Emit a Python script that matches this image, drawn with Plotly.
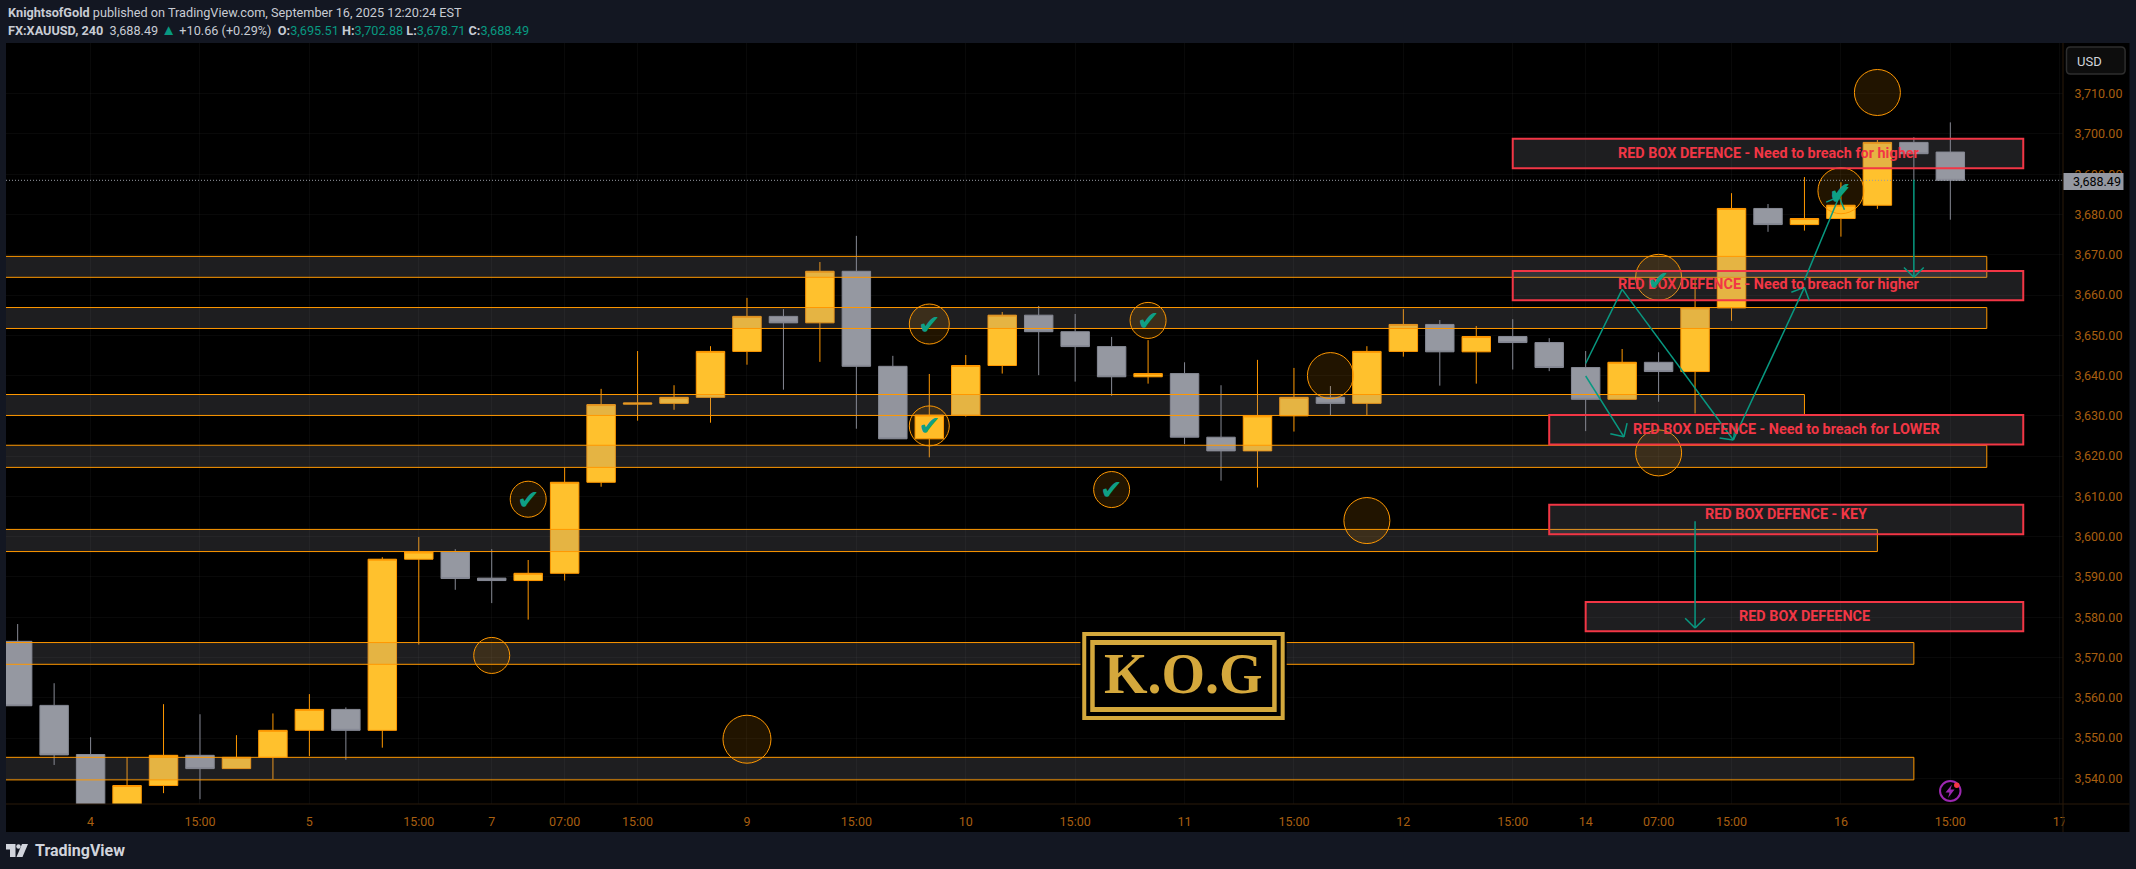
import plotly.graph_objects as go
import math

# ---------- data ----------
opens = [3574.0,3558.1,3545.9,3531.0,3538.2,3545.7,3542.4,3545.2,3551.9,3557.1,3551.9,3594.4,3596.2,3589.7,3589.1,3590.9,3613.5,3632.9,3633.1,3634.6,
         3646.0,3654.7,3653.1,3665.9,3642.3,3624.3,3630.2,3642.5,3655.0,3650.9,3647.2,3639.7,3640.5,3624.7,3621.3,3630.0,3634.6,3633.1,3646.0,3652.7,
         3645.9,3649.7,3648.2,3642.0,3634.1,3643.3,3641.0,3656.8,3681.5,3677.5,3679.0,3682.3,3697.9,3695.51]
highs = [3578.3,3563.6,3550.2,3545.2,3558.4,3555.9,3550.7,3556.1,3560.9,3557.6,3594.9,3599.9,3596.9,3596.9,3594.2,3617.2,3636.7,3646.1,3637.6,3647.3,
         3659.3,3656.5,3668.2,3674.7,3644.9,3640.4,3645.1,3655.8,3657.3,3655.3,3649.6,3648.8,3643.3,3637.6,3643.9,3641.9,3637.4,3647.3,3656.5,3653.8,
         3652.3,3654.0,3649.3,3646.1,3646.6,3645.8,3663.9,3685.3,3682.6,3689.3,3688.0,3698.5,3699.2,3702.88]
lows = [3558.0,3543.3,3528.0,3530.0,3536.3,3534.8,3542.4,3539.8,3545.5,3544.6,3547.6,3573.2,3586.8,3583.5,3579.4,3589.1,3612.4,3628.8,3631.5,3628.3,
        3642.7,3636.5,3643.4,3626.8,3624.3,3619.7,3629.8,3640.5,3640.1,3638.5,3635.0,3638.0,3623.0,3613.9,3612.2,3626.1,3630.2,3630.2,3644.7,3637.5,
        3638.0,3641.5,3641.1,3626.2,3634.1,3633.5,3630.6,3653.6,3675.7,3676.0,3674.5,3681.4,3688.6,3678.71]
closes = [3558.0,3545.8,3530.0,3538.2,3545.7,3542.4,3545.2,3551.9,3557.1,3551.9,3594.4,3596.2,3589.6,3589.1,3590.9,3613.5,3632.8,3633.2,3634.6,3646.0,
          3654.7,3653.1,3665.9,3642.3,3624.3,3630.2,3642.5,3655.0,3650.9,3647.2,3639.7,3640.5,3624.7,3621.3,3630.0,3634.6,3633.1,3646.0,3652.7,3645.9,
          3649.7,3648.2,3642.0,3634.1,3643.3,3641.0,3656.8,3681.5,3677.5,3679.0,3682.3,3697.9,3695.1,3688.49]
bars = list(range(len(closes)))

x_tick_bars = [2,5,8,11,13,15,17,20,23,26,29,32,35,38,41,43,45,47,50,53,56]
x_tick_text = ["4","15:00","5","15:00","7","07:00","15:00","9","15:00","10","15:00","11","15:00","12","15:00","14","07:00","15:00","16","15:00","17"]
y_ticks = [3540,3550,3560,3570,3580,3590,3600,3610,3620,3630,3640,3650,3660,3670,3680,3690,3700,3710]
y_tick_text = [f"{v:,.2f}" for v in y_ticks]
last_price = 3688.49

# zones: price top, price bottom, last bar
zone_tops = [3669.6,3656.9,3635.3,3622.7,3601.8,3573.7,3545.2]
zone_bottoms = [3664.4,3651.7,3630.1,3617.2,3596.3,3568.3,3539.6]
zone_ends = [54,54,49,54,51,52,52]

# red boxes
red_tops = [3698.8,3666.0,3630.2,3607.9,3583.8]
red_bottoms = [3691.5,3658.7,3622.9,3600.6,3576.5]
red_starts = [41,41,42,42,43]
red_ends = [55,55,55,55,55]
red_labels = ["RED BOX DEFENCE - Need to breach for higher","RED BOX DEFENCE - Need to breach for higher",
              "RED BOX DEFENCE - Need to breach for LOWER","RED BOX DEFENCE - KEY","RED BOX DEFEENCE"]
red_label_bars = [48,48,48.5,48.5,49]
red_label_prices = [3695.2,3662.5,3626.6,3605.6,3580.2]

# circles: bar, price, radius (px)
circle_bars = [51,50,45,45,37,36,20,13,14,30,25,25,31]
circle_prices = [3710.3,3685.9,3664.4,3620.8,3604.0,3640.0,3549.7,3570.5,3609.3,3611.7,3627.5,3652.8,3653.7]
circle_radii = [23,23,23,23,23,23,24,18,18,18,20,20,18]
# check marks
check_bars = [14,30,25,25,31,45,50,50]
check_prices = [3609.3,3611.7,3627.5,3652.8,3653.7,3663.7,3685.0,3685.8]

# arrows (from bar, from price, to bar, to price, has head)
arrow_x0 = [43,44,47.05,43,49,52,46]
arrow_p0 = [3643.0,3661.4,3624.0,3639.9,3663.7,3688.6,3603.8]
arrow_x1 = [44,47.05,49,44.05,49.95,52,46]
arrow_p1 = [3661.4,3624.0,3661.9,3624.8,3684.4,3664.4,3577.3]
arrow_heads = [False,True,True,True,True,True,True]

# ---------- layout constants ----------
W, H = 2136, 869
PL, PR, PT, PB = 6, 2063.5, 43, 804
X_RANGE = [-0.32, 56.09]
Y_RANGE = [3533.61, 3722.59]
SX = (PR-PL)/(X_RANGE[1]-X_RANGE[0])
SY = (PB-PT)/(Y_RANGE[1]-Y_RANGE[0])
def px(x): return (x-PL)/(PR-PL)
def py(y): return (PB-y)/(PB-PT)

CHROME = "#131722"; ORANGE = "#FF9800"; YELLOW = "#FFC12D"; GREY = "#9598A1"
RED = "#F23645"; TEAL = "#089981"; GOLD = "#D4A83C"; AXIS = "#A85F10"
BOX_FILL = "rgba(138,138,147,0.22)"
FONT = "Roboto"; AXFONT = "Roboto"

shapes = []
def prect(x0,y0,x1,y1,fill,line=None,lw=0,layer="above"):
    shapes.append(dict(type="rect",xref="paper",yref="paper",x0=px(x0),x1=px(x1),y0=py(y1),y1=py(y0),
                       fillcolor=fill,line=dict(color=line or fill,width=lw),layer=layer))

# chart panel (plot + axes)
prect(PL,PT,2130,832,"#000000",layer="below")
# axis separators
shapes.append(dict(type="line",xref="paper",yref="paper",x0=0,x1=px(2130),y0=0,y1=0,line=dict(color="#2a1a0a",width=1),layer="above"))
shapes.append(dict(type="line",xref="paper",yref="paper",x0=1,x1=1,y0=py(832),y1=1,line=dict(color="#2a1a0a",width=1),layer="above"))

# zones
for t,b,e in zip(zone_tops,zone_bottoms,zone_ends):
    shapes.append(dict(type="rect",xref="x",yref="y",x0=-2,x1=e,y0=b,y1=t,fillcolor=BOX_FILL,line=dict(color=ORANGE,width=1),layer="above"))
# circles
for b,p,r in zip(circle_bars,circle_prices,circle_radii):
    shapes.append(dict(type="circle",xref="x",yref="y",x0=b-r/SX,x1=b+r/SX,y0=p-r/SY,y1=p+r/SY,
                       fillcolor="rgba(255,152,0,0.13)",line=dict(color=ORANGE,width=1),layer="above"))
# red boxes
for t,b,s,e in zip(red_tops,red_bottoms,red_starts,red_ends):
    shapes.append(dict(type="rect",xref="x",yref="y",x0=s,x1=e,y0=b,y1=t,fillcolor=BOX_FILL,line=dict(color=RED,width=2),layer="above"))
# last price line
shapes.append(dict(type="line",xref="paper",yref="y",x0=0,x1=1,y0=last_price,y1=last_price,line=dict(color="#9a9da6",width=1,dash="1px,2px"),layer="above"))
# arrows
def seg(x0,p0,x1,p1,lw=1.5):
    shapes.append(dict(type="line",xref="x",yref="y",x0=x0,x1=x1,y0=p0,y1=p1,line=dict(color=TEAL,width=lw),layer="above"))
for x0,p0,x1,p1,h in zip(arrow_x0,arrow_p0,arrow_x1,arrow_p1,arrow_heads):
    seg(x0,p0,x1,p1)
    if h:
        a = math.atan2((p1-p0)*SY,(x1-x0)*SX)
        for d in (math.pi*0.75,-math.pi*0.75):
            seg(x1,p1,x1+14*math.cos(a+d)/SX,p1+14*math.sin(a+d)/SY)

# logo
prect(1080.7,630,1287,722,"#000000")
prect(1082.5,632,1285,720,GOLD)
prect(1086.5,636,1281,716,"#000000")
prect(1090.5,640,1277,712,GOLD)
prect(1095,645,1272.5,707,"#000000")

# USD button
x0,x1,y0,y1 = px(2067),px(2125.6),py(74),py(47)
rx,ry = 4/(PR-PL),4/(PB-PT)
shapes.append(dict(type="path",xref="paper",yref="paper",
    path=f"M{x0+rx},{y0} L{x1-rx},{y0} Q{x1},{y0} {x1},{y0+ry} L{x1},{y1-ry} Q{x1},{y1} {x1-rx},{y1} L{x0+rx},{y1} Q{x0},{y1} {x0},{y1-ry} L{x0},{y0+ry} Q{x0},{y0} {x0+rx},{y0} Z",
    fillcolor="#0d0d0d",line=dict(color="#2e2e2e",width=1.5),layer="above"))
# last price tag
prect(2064,173,2124,190,"#9598A1")
# bolt icon
shapes.append(dict(type="circle",xref="paper",yref="paper",x0=px(1940.5),x1=px(1961),y0=py(801),y1=py(781),
                   fillcolor="rgba(0,0,0,0)",line=dict(color="#9C27B0",width=2),layer="above"))
shapes.append(dict(type="circle",xref="paper",yref="paper",x0=px(1954.5),x1=px(1960),y0=py(788),y1=py(782.5),
                   fillcolor=RED,line=dict(color=RED,width=0),layer="above"))
def ppath(pts): return "M"+" L".join(f"{px(a)},{py(b)}" for a,b in pts)+" Z"
shapes.append(dict(type="path",xref="paper",yref="paper",path=ppath([(1952.5,784.5),(1946,792.5),(1950,792.5),(1948.5,798),(1955,789.5),(1951,789.5)]),
                   fillcolor="#9C27B0",line=dict(width=0),layer="above"))
# TradingView mark
for pts in ([(6,844),(15.5,844),(15.5,857),(10,857),(10,849.5),(6,849.5)],
            [(28,844),(22.5,857),(16.5,857),(22,844)]):
    shapes.append(dict(type="path",xref="paper",yref="paper",path=ppath(pts),fillcolor="#D1D4DC",line=dict(width=0)))
shapes.append(dict(type="circle",xref="paper",yref="paper",x0=px(16.3),x1=px(20.7),y0=py(848.7),y1=py(844.3),fillcolor="#D1D4DC",line=dict(width=0)))

ann = []
def ptext(x,y,t,size,color,anchor="left",family=FONT,**k):
    ann.append(dict(xref="paper",yref="paper",x=px(x),y=py(y),text=t,showarrow=False,xanchor=anchor,yanchor="middle",
                    font=dict(family=family,size=size,color=color),**k))

C1 = "#C8CCD4"
ptext(6,12.7,"<b>KnightsofGold</b> published on TradingView.com, September 16, 2025 12:20:24 EST",12.7,C1)
T = TEAL
line2 = (f"<b>FX:XAUUSD, 240</b>  3,688.49 <span style='color:{T};font-size:15px'>▲</span> +10.66 (+0.29%)  "
         f"<b>O:</b><span style='color:{T}'>3,695.51</span> <b>H:</b><span style='color:{T}'>3,702.88</span> "
         f"<b>L:</b><span style='color:{T}'>3,678.71</span> <b>C:</b><span style='color:{T}'>3,688.49</span>")
ptext(6,29.7,line2,12.7,C1)
ptext(2076,61.5,"USD",13,"#D1D4DC")
ptext(2072,181.5,"3,688.49",12.5,"#000000")
ptext(33,851,"<b>TradingView</b>",16,"#D1D4DC")
ptext(1183.5,674,"<b>K.O.G</b>",56,GOLD,anchor="center",family="Liberation Serif")
for t,b,p in zip(red_labels,red_label_bars,red_label_prices):
    ann.append(dict(xref="x",yref="y",x=b,y=p,text=f"<b>{t}</b>",showarrow=False,xanchor="center",yanchor="middle",
                    font=dict(family=FONT,size=14.4,color=RED)))
for b,p in zip(check_bars,check_prices):
    ann.append(dict(xref="x",yref="y",x=b,y=p,text="✔",showarrow=False,xanchor="center",yanchor="middle",
                    font=dict(family="DejaVu Sans",size=27,color="#0E9F85")))
# cover for the clipped "17" axis label
ann.append(dict(xref="paper",yref="paper",x=px(2064.5),y=py(817),text=" ",showarrow=False,xanchor="left",yanchor="middle",
                width=10,height=16,bgcolor="#000000"))

fig = go.Figure(go.Candlestick(
    x=bars,open=opens,high=highs,low=lows,close=closes,whiskerwidth=0,
    increasing=dict(line=dict(color=ORANGE,width=1),fillcolor=YELLOW),
    decreasing=dict(line=dict(color="#868994",width=1),fillcolor=GREY),
    hoverinfo="skip",showlegend=False))

fig.update_layout(
    width=W,height=H,margin=dict(l=PL,r=W-PR,t=PT,b=H-PB,pad=0),autosize=False,
    paper_bgcolor=CHROME,plot_bgcolor="#000000",showlegend=False,dragmode=False,
    boxgap=0.22,boxgroupgap=0,
    shapes=shapes,annotations=ann,
    xaxis=dict(range=X_RANGE,tickmode="array",tickvals=x_tick_bars,ticktext=x_tick_text,rangeslider=dict(visible=False),
               showgrid=True,gridcolor="rgba(255,255,255,0.035)",gridwidth=1,zeroline=False,showline=False,ticks="outside",ticklen=6,tickcolor="rgba(0,0,0,0)",
               tickangle=0,tickfont=dict(family=AXFONT,size=12.5,color=AXIS)),
    yaxis=dict(range=Y_RANGE,side="right",tickmode="array",tickvals=y_ticks,ticktext=y_tick_text,
               showgrid=True,gridcolor="rgba(255,255,255,0.035)",gridwidth=1,zeroline=False,showline=False,ticks="outside",ticklen=8,tickcolor="rgba(0,0,0,0)",
               tickfont=dict(family=AXFONT,size=12.5,color=AXIS)),
)
fig.write_html("out.html",config=dict(displayModeBar=False),
               post_script="document.body.style.margin='0';document.body.style.overflow='hidden';document.body.style.background='#131722';")
